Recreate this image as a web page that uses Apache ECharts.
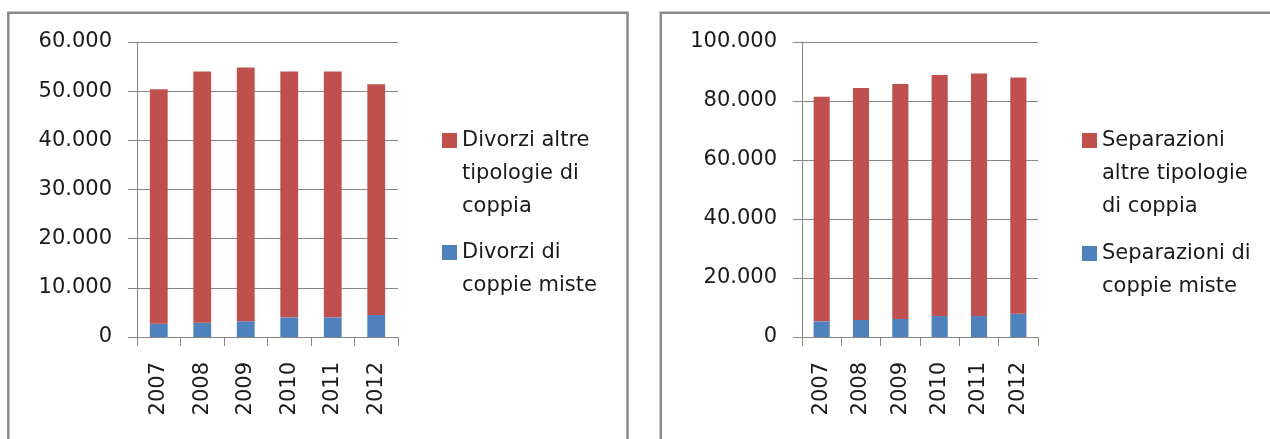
<!DOCTYPE html>
<html>
<head>
    <meta charset="utf-8">
    <title>Divorzi e separazioni</title>
    <script type="text/javascript" src="https://cdn.jsdelivr.net/npm/echarts@6/dist/echarts.min.js"></script>
    <style>
        body { margin: 0; background: #fff; }
    </style>
</head>
<body>
    <div id="main" style="width:1270px;height:439px;"></div>

    <script type="text/javascript">
        // dati
        var anni = ['2007', '2008', '2009', '2010', '2011', '2012'];

        var divorziMiste = [2700, 2900, 3200, 4000, 4000, 4500];
        var divorziAltre = [47700, 51100, 51600, 50000, 50000, 46900];

        var separazioniMiste = [5300, 5800, 6100, 7100, 7100, 7900];
        var separazioniAltre = [76100, 78600, 79700, 81700, 82200, 80100];

        var nomi = [
            'Divorzi altre tipologie di coppia',
            'Divorzi di coppie miste',
            'Separazioni altre tipologie di coppia',
            'Separazioni di coppie miste'
        ];
        // testo della legenda su più righe
        var righe = {
            'Divorzi altre tipologie di coppia': ['Divorzi altre', 'tipologie di', 'coppia'],
            'Divorzi di coppie miste': ['Divorzi di', 'coppie miste'],
            'Separazioni altre tipologie di coppia': ['Separazioni', 'altre tipologie', 'di coppia'],
            'Separazioni di coppie miste': ['Separazioni di', 'coppie miste']
        };

        var rosso = '#C0504D';
        var blu = '#4F81BD';
        var grigio = '#868686';
        var font = 'DejaVu Sans';

        function migliaia(v) {
            return String(v).replace(/\B(?=(\d{3})+(?!\d))/g, '.');
        }

        // il simbolo sta al centro del testo: righe vuote prima,
        // così la prima riga resta accanto al quadratino
        function testoLegenda(n) {
            var r = righe[n];
            var vuote = new Array(r.length).join('\n');
            return vuote + r.join('\n');
        }

        var myChart = echarts.init(document.getElementById('main'));

        var grids = [
            { left: 137, top: 42, width: 261, height: 295 },
            { left: 802, top: 42, width: 236, height: 295 }
        ];

        var xAxes = [];
        var yAxes = [];
        var maxs = [60000, 100000];
        var steps = [10000, 20000];
        for ( var i = 0; i < 2; i++ ) {
            xAxes.push({
                type: 'category',
                gridIndex: i,
                data: anni,
                axisLine: { lineStyle: { color: grigio, width: 1 } },
                axisTick: { show: true, length: 9, lineStyle: { color: grigio } },
                axisLabel: { rotate: 90, margin: 25, color: '#1a1a1a', fontFamily: font, fontSize: 21 }
            });
            yAxes.push({
                type: 'value',
                gridIndex: i,
                min: 0,
                max: maxs[i],
                interval: steps[i],
                axisLine: { show: true, lineStyle: { color: grigio, width: 1 } },
                axisTick: { show: true, length: 9, lineStyle: { color: grigio } },
                splitLine: { lineStyle: { color: grigio, width: 1 } },
                axisLabel: { margin: 25, color: '#1a1a1a', fontFamily: font, fontSize: 21, formatter: migliaia }
            });
        }

        // una legenda per voce
        function legenda(nome, left, top) {
            return {
                orient: 'vertical',
                left: left,
                top: top,
                padding: 0,
                itemWidth: 15,
                itemHeight: 15,
                icon: 'rect',
                selectedMode: false,
                formatter: testoLegenda,
                textStyle: { fontFamily: font, fontSize: 21, lineHeight: 33, color: '#1a1a1a' },
                data: [nome]
            };
        }

        var option = {
            animation: false,
            grid: grids,
            xAxis: xAxes,
            yAxis: yAxes,
            legend: [
                legenda(nomi[0], 442, 58),
                legenda(nomi[1], 442, 203),
                legenda(nomi[2], 1082, 58),
                legenda(nomi[3], 1082, 204)
            ],
            graphic: [
                { type: 'rect', shape: { x: 8.3, y: 12.7, width: 619.2, height: 500 }, style: { fill: 'none', stroke: '#8a8a8a', lineWidth: 2.5 }, silent: true },
                { type: 'rect', shape: { x: 660.8, y: 12.7, width: 700, height: 500 }, style: { fill: 'none', stroke: '#8a8a8a', lineWidth: 2.5 }, silent: true }
            ],
            series: [
                { name: nomi[1], type: 'bar', stack: 'd', xAxisIndex: 0, yAxisIndex: 0, barWidth: '41%', itemStyle: { color: blu }, data: divorziMiste },
                { name: nomi[0], type: 'bar', stack: 'd', xAxisIndex: 0, yAxisIndex: 0, barWidth: '41%', itemStyle: { color: rosso }, data: divorziAltre },
                { name: nomi[3], type: 'bar', stack: 's', xAxisIndex: 1, yAxisIndex: 1, barWidth: '41%', itemStyle: { color: blu }, data: separazioniMiste },
                { name: nomi[2], type: 'bar', stack: 's', xAxisIndex: 1, yAxisIndex: 1, barWidth: '41%', itemStyle: { color: rosso }, data: separazioniAltre }
            ]
        };

        myChart.setOption(option);
    </script>
</body>
</html>
